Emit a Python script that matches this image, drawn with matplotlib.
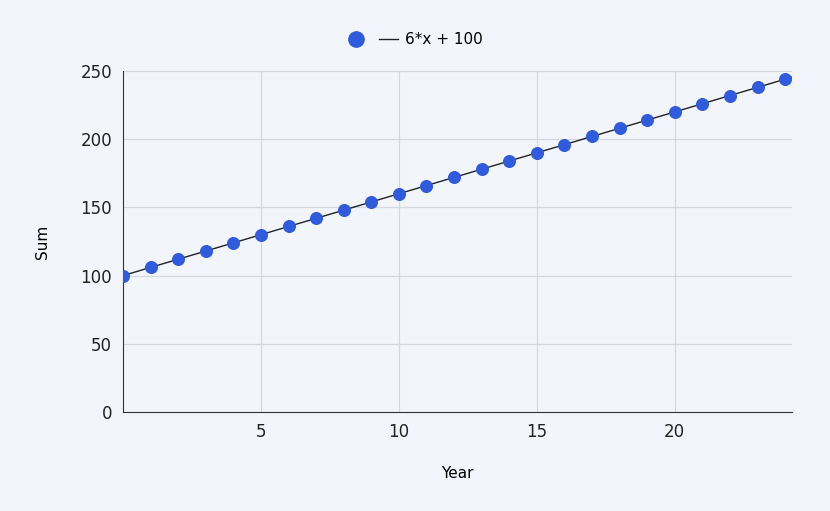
import matplotlib.pyplot as plt
from matplotlib.lines import Line2D

years = list(range(25))
sums = [100, 106, 112, 118, 124, 130, 136, 142, 148, 154, 160, 166, 172,
        178, 184, 190, 196, 202, 208, 214, 220, 226, 232, 238, 244]
trend_x = [0, 24.25]
trend_y = [100, 245.5]

bg = "#f2f5fc"
fig = plt.figure(figsize=(8.3, 5.11), dpi=100, facecolor=bg)
ax = fig.add_axes([123 / 830, 1 - 412 / 511, 669 / 830, 341 / 511], facecolor=bg)

ax.plot(trend_x, trend_y, color="#222222", lw=1, zorder=2)
ax.scatter(years, sums, s=70, color="#2f5bdc", zorder=3)

ax.set_xlim(0, 24.25)
ax.set_ylim(0, 250)
ax.set_xticks([5, 10, 15, 20])
ax.set_yticks([0, 50, 100, 150, 200, 250])
ax.grid(color="#d3d8e2", lw=0.9)
for s in ["top", "right"]:
    ax.spines[s].set_visible(False)
ax.spines["left"].set_color("#333333")
ax.spines["bottom"].set_color("#333333")
ax.tick_params(length=0, labelsize=12, colors="#222222", pad=8)
ax.set_xlabel("Year", fontsize=11, labelpad=18)
ax.set_ylabel("Sum", fontsize=11, labelpad=22)

handles = [
    Line2D([], [], ls="none", marker="o", ms=11, color="#2f5bdc"),
    Line2D([], [], color="#222222", lw=1),
]
fig.legend(handles, ["", "6*x + 100"], loc="center", bbox_to_anchor=(0.5, 1 - 40 / 511),
           ncol=2, frameon=False, fontsize=11, handlelength=1.2, columnspacing=0.4,
           handletextpad=0.5)

fig.savefig("out.png", dpi=100, facecolor=bg)
